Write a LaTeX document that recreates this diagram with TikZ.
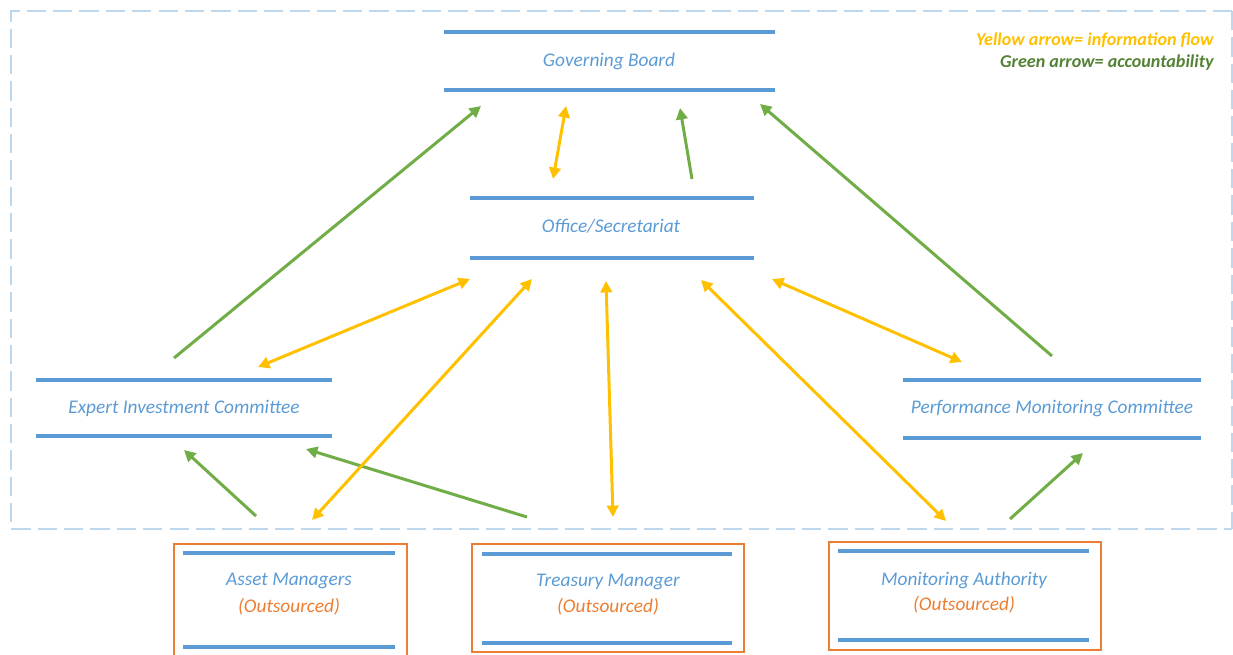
\documentclass[tikz,border=0pt]{standalone}
\usepackage{fontspec}
\setmainfont{Carlito}
\usetikzlibrary{arrows.meta}

\definecolor{barblue}{HTML}{5B9BD5}
\definecolor{frameblue}{HTML}{BDD7EE}
\definecolor{outorange}{HTML}{ED7D31}
\definecolor{infoyellow}{HTML}{FFC000}
\definecolor{accgreen}{HTML}{70AD47}
\definecolor{legendgreen}{HTML}{548235}

\tikzset{
  bar/.style={barblue, line width=2.8pt},
  unit/.style={text=barblue, font=\itshape\fontsize{11}{13}\selectfont, inner sep=0pt},
  outsrc/.style={text=outorange, font=\itshape\fontsize{11}{13}\selectfont, inner sep=0pt},
  outbox/.style={draw=outorange, line width=0.8pt},
  info/.style={infoyellow, line width=1.7pt, {Triangle[length=6.5pt,width=6.5pt]}-{Triangle[length=6.5pt,width=6.5pt]}},
  acc/.style={accgreen, line width=1.7pt, -{Triangle[length=6.5pt,width=6.5pt]}},
  legend/.style={font=\bfseries\itshape\fontsize{10.3}{12}\selectfont, anchor=east, inner sep=0pt}
}

\begin{document}
\begin{tikzpicture}[x=0.02cm, y=-0.02cm, line cap=butt]
  \useasboundingbox (0,0) rectangle (1233,654);

  % dashed frame
  \draw[frameblue, line width=1.2pt, dash pattern=on 11pt off 4pt] (1232,11) -- (11,11) -- (11,529) -- (1232,529);
  \draw[frameblue, line width=1.2pt, dash pattern=on 11pt off 4pt] (1232,11) -- (1232,529);

  % legend
  \node[legend, text=infoyellow] (leginfo) at (1214,40) {Yellow arrow= information flow};
  \node[legend, text=legendgreen] (legacc) at (1214,63) {Green arrow= accountability};

  % Governing Board
  \draw[bar] (444,32) -- (775,32);
  \draw[bar] (444,90) -- (775,90);
  \node[unit] (board) at (609,61) {Governing Board};

  % Office/Secretariat
  \draw[bar] (470,198) -- (754,198);
  \draw[bar] (470,258) -- (754,258);
  \node[unit] (office) at (611,226) {Office/Secretariat};

  % Expert Investment Committee
  \draw[bar] (36,380) -- (332,380);
  \draw[bar] (36,436) -- (332,436);
  \node[unit] (expert) at (184,408) {Expert Investment Committee};

  % Performance Monitoring Committee
  \draw[bar] (903,380) -- (1201,380);
  \draw[bar] (903,438) -- (1201,438);
  \node[unit] (perf) at (1052,408) {Performance Monitoring Committee};

  % outsourced boxes
  \draw[outbox] (174,544) rectangle (407,660);
  \draw[bar] (183,553) -- (395,553);
  \draw[bar] (183,647) -- (395,647);
  \node[unit] (asset) at (289,581) {Asset Managers};
  \node[outsrc] (assetout) at (289,607) {(Outsourced)};

  \draw[outbox] (472,544) rectangle (744,652);
  \draw[bar] (482,554) -- (732,554);
  \draw[bar] (482,643) -- (732,643);
  \node[unit] (treasury) at (608,582) {Treasury Manager};
  \node[outsrc] (treasuryout) at (608,607) {(Outsourced)};

  \draw[outbox] (829,542) rectangle (1101,650);
  \draw[bar] (838,551) -- (1089,551);
  \draw[bar] (838,640) -- (1089,640);
  \node[unit] (monitor) at (964,580) {Monitoring Authority};
  \node[outsrc] (monitorout) at (964,605) {(Outsourced)};

  % arrow ends
  \coordinate (gbA) at (481,106);
  \coordinate (gbB) at (566,106);
  \coordinate (gbC) at (680,108);
  \coordinate (gbD) at (760,104);
  \coordinate (ofA) at (553,179);
  \coordinate (ofB) at (692,179);
  \coordinate (osA) at (470,279);
  \coordinate (osB) at (532,279);
  \coordinate (osC) at (606,281);
  \coordinate (osD) at (701,280);
  \coordinate (osE) at (772,279);
  \coordinate (exTop) at (174,358);
  \coordinate (exIn) at (258,367);
  \coordinate (exBotA) at (184,450);
  \coordinate (exBotB) at (306,449);
  \coordinate (pmTop) at (1052,356);
  \coordinate (pmIn) at (962,362);
  \coordinate (pmBot) at (1083,453);
  \coordinate (amA) at (256,516);
  \coordinate (amB) at (312,520);
  \coordinate (tmA) at (527,517);
  \coordinate (tmB) at (613,517);
  \coordinate (maA) at (946,521);
  \coordinate (maB) at (1010,519);

  % accountability
  \draw[acc] (exTop) -- (gbA);
  \draw[acc] (ofB) -- (gbC);
  \draw[acc] (pmTop) -- (gbD);
  \draw[acc] (amA) -- (exBotA);
  \draw[acc] (tmA) -- (exBotB);
  \draw[acc] (maB) -- (pmBot);

  % information flow
  \draw[info] (gbB) -- (ofA);
  \draw[info] (osA) -- (exIn);
  \draw[info] (osB) -- (amB);
  \draw[info] (osC) -- (tmB);
  \draw[info] (osD) -- (maA);
  \draw[info] (osE) -- (pmIn);
\end{tikzpicture}
\end{document}
